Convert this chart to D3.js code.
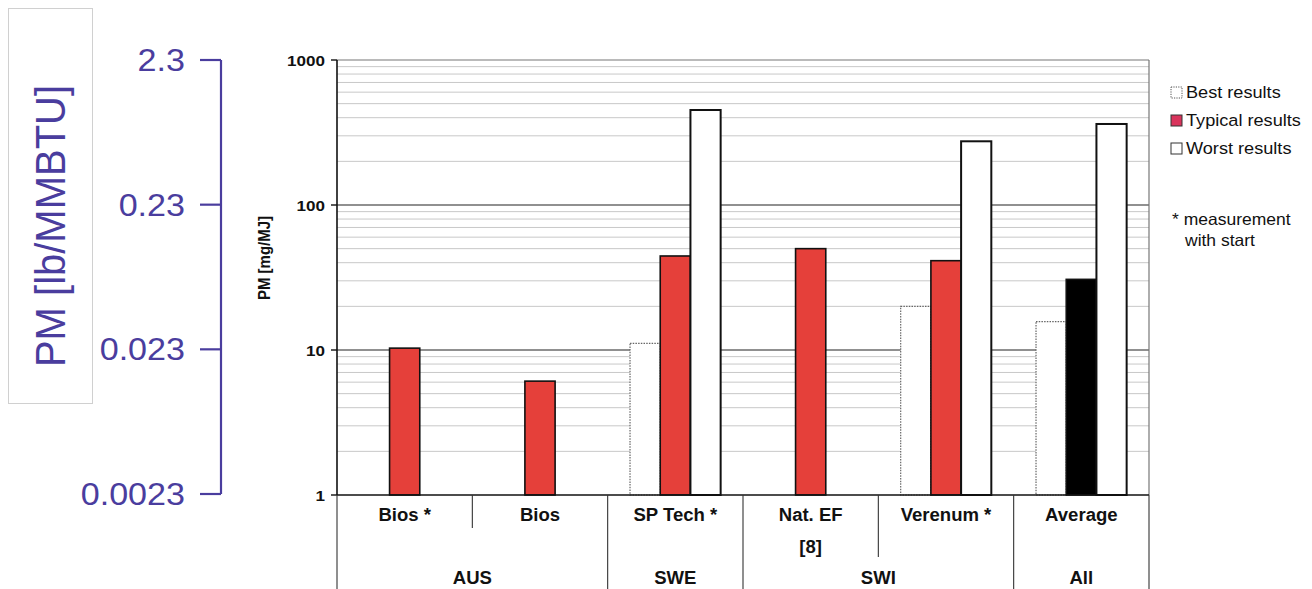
<!DOCTYPE html>
<html><head><meta charset="utf-8">
<script src="https://cdn.jsdelivr.net/npm/d3@7"></script>
<style>
body{margin:0;background:#fff}
svg{display:block}
text{font-family:"Liberation Sans",Arial,Helvetica,sans-serif}
</style>
</head><body>
<svg id="c" width="1312" height="589"></svg>
<script>
// ---- data ----
const categories = ["Bios *", "Bios", "SP Tech *", "Nat. EF", "Verenum *", "Average"];
const subLabels  = ["", "", "", "[8]", "", ""];
const groups     = ["AUS", "SWE", "SWI", "All"];
const groupSizes = [2, 1, 2, 1];
const seriesNames = ["Best results", "Typical results", "Worst results"];
const bestValues    = [null, null, 11.1, null, 20.0, 15.7];
const typicalValues = [10.3, 6.1, 44.5, 50.0, 41.3, 30.7];
const worstValues   = [null, null, 452, null, 275, 362];
const yTicks  = [1, 10, 100, 1000];
const lbTicks = [2.3, 0.23, 0.023, 0.0023];
const yTitle  = "PM [mg/MJ]";
const lbTitle = "PM [lb/MMBTU]";
const footnote = ["* measurement", "with start"];

// ---- layout ----
const svg = d3.select("#c");
const L = 337, R = 1149, TOP = 60, BOT = 495;
const BLUE = "#4a3d9e", RED = "#e5403a";

const y = d3.scaleLog().domain([1, 1000]).range([BOT, TOP]);
const yLb = d3.scaleLog().domain([0.0023, 2.3]).range([494, TOP]);
const x0 = d3.scaleBand().domain(categories).range([L, R]).paddingInner(0).paddingOuter(0);
const x1 = d3.scaleBand().domain(seriesNames).range([0, x0.bandwidth()]).paddingInner(0).paddingOuter(0.74);

function T(g, x, y, s, o = {}) {
  const t = g.append("text")
    .attr("transform", `translate(${x},${y}) ${o.rot ? "rotate(-90) scale(1," + (o.sx || 1.08) + ")" : "scale(" + (o.sx || 1.08) + ",1)"}`)
    .attr("text-anchor", o.anchor || "start")
    .attr("font-size", o.size || 16)
    .attr("font-weight", o.bold ? "bold" : "normal")
    .attr("fill", o.fill || "#111")
    .text(s);
  if (o.dy) t.attr("dy", o.dy);
  return t;
}

// ---- grid ----
const grid = svg.append("g");
const minor = [];
[1, 10, 100].forEach(d => { for (let k = 2; k <= 9; k++) minor.push(d * k); });
grid.selectAll(".mn").data(minor).join("line")
  .attr("x1", L).attr("x2", R).attr("y1", d => y(d)).attr("y2", d => y(d))
  .attr("stroke", "#c8c8c8").attr("stroke-width", 1);
grid.selectAll(".mj").data([10, 100]).join("line")
  .attr("x1", L).attr("x2", R).attr("y1", d => y(d)).attr("y2", d => y(d))
  .attr("stroke", "#222").attr("stroke-width", 1.2);
grid.append("line").attr("x1", L).attr("x2", R).attr("y1", y(1000)).attr("y2", y(1000))
  .attr("stroke", "#777").attr("stroke-width", 1.2);
grid.append("line").attr("x1", R).attr("x2", R).attr("y1", TOP).attr("y2", BOT)
  .attr("stroke", "#777").attr("stroke-width", 1.2);

// ---- bars ----
const seriesData = [bestValues, typicalValues, worstValues];
const bars = svg.append("g");
seriesData.forEach((vals, si) => {
  const rows = categories.map((c, i) => ({ c, v: vals[i], i })).filter(d => d.v != null);
  const sel = bars.selectAll(".s" + si).data(rows).join("rect")
    .attr("x", d => x0(d.c) + x1(seriesNames[si]))
    .attr("width", x1.bandwidth())
    .attr("y", d => y(d.v))
    .attr("height", d => y(1) - y(d.v));
  if (si === 0) {
    sel.attr("fill", "#fff").attr("stroke", "#666").attr("stroke-width", 1.2).attr("stroke-dasharray", "1.5,1.2");
  } else if (si === 1) {
    sel.attr("fill", d => d.i === categories.length - 1 ? "#000" : RED).attr("stroke", "#111").attr("stroke-width", 1.6);
  } else {
    sel.attr("fill", "#fff").attr("stroke", "#111").attr("stroke-width", 2);
  }
});

// ---- main axis ----
const ax = svg.append("g");
ax.append("line").attr("x1", L).attr("x2", L).attr("y1", TOP).attr("y2", BOT).attr("stroke", "#111").attr("stroke-width", 1.6);
ax.append("line").attr("x1", L).attr("x2", R).attr("y1", BOT).attr("y2", BOT).attr("stroke", "#111").attr("stroke-width", 1.6);
ax.selectAll(".tk").data(yTicks).join("line")
  .attr("x1", L - 6).attr("x2", L).attr("y1", d => y(d)).attr("y2", d => y(d)).attr("stroke", "#111").attr("stroke-width", 1.4);
yTicks.forEach(d => T(ax, 325, y(d), String(d), { anchor: "end", size: 15.5, bold: true, dy: "0.36em", sx: 1.1 }));
T(ax, 270, 258, yTitle, { rot: true, anchor: "middle", size: 15, bold: true, sx: 1.1 });

// ---- category table ----
const tb = svg.append("g");
let idx = 0;
const edges = [L];
groups.forEach((g, gi) => {
  const first = categories[idx], last = categories[idx + groupSizes[gi] - 1];
  const gx0 = x0(first), gx1 = x0(last) + x0.bandwidth();
  const hasSub = subLabels.slice(idx, idx + groupSizes[gi]).some(s => s);
  for (let k = 1; k < groupSizes[gi]; k++) {
    const xx = x0(categories[idx + k]);
    tb.append("line").attr("x1", xx).attr("x2", xx).attr("y1", BOT).attr("y2", hasSub ? 557 : 528)
      .attr("stroke", "#333").attr("stroke-width", 1.1);
  }
  edges.push(gx1);
  T(tb, (gx0 + gx1) / 2, 584, g, { anchor: "middle", size: 17.5, bold: true, sx: 1.06 });
  idx += groupSizes[gi];
});
edges.forEach(xx => tb.append("line").attr("x1", xx).attr("x2", xx).attr("y1", BOT).attr("y2", 589)
  .attr("stroke", "#333").attr("stroke-width", 1.1));
categories.forEach((c, i) => {
  const cx = x0(c) + x0.bandwidth() / 2;
  T(tb, cx, 521, c, { anchor: "middle", size: 17.5, bold: true, sx: 1.06 });
  if (subLabels[i]) T(tb, cx, 553, subLabels[i], { anchor: "middle", size: 17.5, bold: true, sx: 1.06 });
});

// ---- legend ----
const lg = svg.append("g");
seriesNames.forEach((s, i) => {
  const yy = 87 + i * 28;
  const r = lg.append("rect").attr("x", 1171).attr("y", yy).attr("width", 11).attr("height", 11);
  if (i === 0) r.attr("fill", "#fff").attr("stroke", "#555").attr("stroke-width", 1).attr("stroke-dasharray", "1.2,1.2");
  else if (i === 1) r.attr("fill", "#d9345c").attr("stroke", "#333").attr("stroke-width", 1);
  else r.attr("fill", "#fff").attr("stroke", "#333").attr("stroke-width", 1);
  T(lg, 1186, yy + 10.5, s, { size: 16.5, sx: 1.1 });
});
T(lg, 1172, 225, footnote[0], { size: 16.5, sx: 1.06 });
T(lg, 1185, 246, footnote[1], { size: 16.5, sx: 1.06 });

// ---- secondary (lb/MMBTU) axis ----
const bx = svg.append("g");
bx.append("rect").attr("x", 8.5).attr("y", 8.5).attr("width", 84).attr("height", 395)
  .attr("fill", "#fff").attr("stroke", "#d0d0d0").attr("stroke-width", 1);
T(bx, 65, 226, lbTitle, { rot: true, anchor: "middle", size: 40, fill: BLUE, sx: 1.06 });
bx.append("line").attr("x1", 221).attr("x2", 221).attr("y1", yLb(2.3)).attr("y2", yLb(0.0023))
  .attr("stroke", BLUE).attr("stroke-width", 2.2);
bx.selectAll(".bt").data(lbTicks).join("line")
  .attr("x1", 200).attr("x2", 221).attr("y1", d => yLb(d)).attr("y2", d => yLb(d))
  .attr("stroke", BLUE).attr("stroke-width", 2.2);
lbTicks.forEach(d => T(bx, 185, yLb(d), String(d), { anchor: "end", size: 31, fill: BLUE, dy: "0.36em", sx: 1.1 }));
</script>
</body></html>
